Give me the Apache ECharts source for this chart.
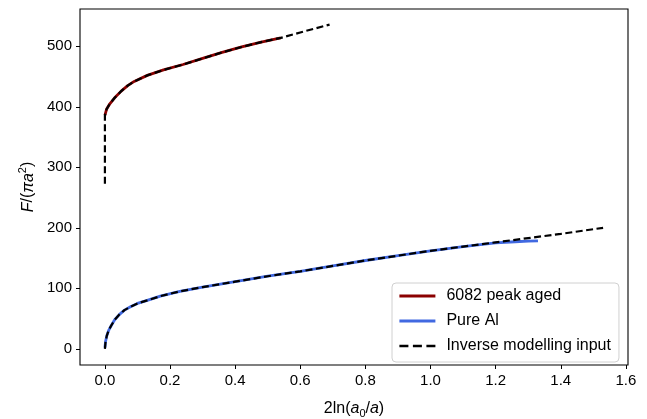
<!DOCTYPE html>
<html>
<head>
<meta charset="utf-8">
<script src="https://cdn.jsdelivr.net/npm/echarts@6/dist/echarts.min.js"></script>
<style>
  html, body { margin: 0; padding: 0; background: #fff; }
  #chart { width: 647px; height: 419px; }
</style>
</head>
<body>
<div id="chart"></div>
<script>
// 6082 peak aged: measured indentation curve
const peakAgedX = [0.0, 0.005, 0.015, 0.03, 0.05, 0.07, 0.09, 0.13, 0.18, 0.24, 0.30, 0.36, 0.42, 0.48, 0.54];
const peakAgedY = [386, 396, 405, 415, 426, 435, 442, 452, 461, 470, 480, 490, 499, 507, 514];

// 6082 peak aged: inverse modelling input
const peakInputX = [0.0, 0.0, 0.0, 0.005, 0.015, 0.03, 0.05, 0.07, 0.09, 0.13, 0.18, 0.24, 0.30, 0.36, 0.42, 0.48, 0.54, 0.60, 0.69];
const peakInputY = [273, 330, 386, 396, 405, 415, 426, 435, 442, 452, 461, 470, 480, 490, 499, 507, 514, 523, 536];

// Pure Al: measured indentation curve
const pureAlX = [0.0, 0.002, 0.006, 0.012, 0.02, 0.03, 0.045, 0.06, 0.08, 0.10, 0.13, 0.17, 0.23, 0.30, 0.40, 0.50, 0.60, 0.70, 0.80, 0.90, 1.00, 1.10, 1.20, 1.26, 1.30, 1.33];
const pureAlY = [2, 12, 22, 31, 39, 48, 57, 64, 70, 75, 80, 87, 95, 102, 111, 120, 128, 137, 146, 154, 162, 169, 175, 177, 178, 178.5];

// Pure Al: inverse modelling input
const pureInputX = [0.0, 0.002, 0.006, 0.012, 0.02, 0.03, 0.045, 0.06, 0.08, 0.10, 0.13, 0.17, 0.23, 0.30, 0.40, 0.50, 0.60, 0.70, 0.80, 0.90, 1.00, 1.10, 1.20, 1.30, 1.40, 1.53];
const pureInputY = [0, 12, 22, 31, 39, 48, 57, 64, 70, 75, 80, 87, 95, 102, 111, 120, 128, 137, 146, 154, 162, 169, 176, 183, 190, 200];

const xTicks = [0, 0.2, 0.4, 0.6, 0.8, 1.0, 1.2, 1.4, 1.6];
const yTicks = [0, 100, 200, 300, 400, 500];

const seriesNames = ['6082 peak aged', 'Pure Al', 'Inverse modelling input'];

const FONT = '"Liberation Sans", Arial, sans-serif';
const pairs = (xs, ys) => xs.map((x, i) => [x, ys[i]]);

const chart = echarts.init(document.getElementById('chart'), null, { renderer: 'canvas' });

const nameRich = {
  n: { fontFamily: FONT, fontSize: 16, color: '#000', lineHeight: 21 },
  i: { fontFamily: FONT, fontSize: 16, fontStyle: 'italic', color: '#000', lineHeight: 21 },
  sub: { fontFamily: FONT, fontSize: 11, color: '#000', verticalAlign: 'bottom', lineHeight: 12 },
  sup: { fontFamily: FONT, fontSize: 11, color: '#000', verticalAlign: 'top', lineHeight: 12 }
};

const tickStyle = { show: true, length: 4, inside: false, lineStyle: { color: '#000', width: 1 } };
const labelStyle = { color: '#000', fontFamily: FONT, fontSize: 15 };

const solid = (name, color, xs, ys) => ({
  name, type: 'line', data: pairs(xs, ys),
  showSymbol: false, symbol: 'none', animation: false,
  lineStyle: { color, width: 2.8 }, itemStyle: { color }
});
const dashed = (xs, ys) => ({
  name: seriesNames[2], type: 'line', data: pairs(xs, ys),
  showSymbol: false, symbol: 'none', animation: false, z: 3,
  lineStyle: { color: '#000', width: 2.2, type: [7, 3.5] }, itemStyle: { color: '#000' }
});

chart.setOption({
  backgroundColor: '#fff',
  animation: false,
  grid: {
    left: 80, right: 19, top: 9, bottom: 54,
    outerBoundsMode: 'none', containLabel: false,
    show: true, borderColor: '#000', borderWidth: 1.1, backgroundColor: 'transparent'
  },
  xAxis: {
    type: 'value', min: -0.0765, max: 1.6065,
    axisLine: { show: false, onZero: false },
    axisTick: Object.assign({ customValues: xTicks }, tickStyle),
    axisLabel: Object.assign({ customValues: xTicks, margin: 8, formatter: v => v.toFixed(1) }, labelStyle),
    splitLine: { show: false },
    name: '{n|2ln(}{i|a}{sub|0}{n|/}{i|a}{n|)}',
    nameLocation: 'middle', nameGap: 33,
    nameTextStyle: { rich: nameRich }
  },
  yAxis: {
    type: 'value', min: -26.75, max: 561.75,
    axisLine: { show: false, onZero: false },
    axisTick: Object.assign({ customValues: yTicks }, tickStyle),
    axisLabel: Object.assign({ customValues: yTicks, margin: 8 }, labelStyle),
    splitLine: { show: false },
    name: '{i|F}{n|/(}{i|πa}{sup|2}{n|)}',
    nameLocation: 'middle', nameGap: 41, nameRotate: 90,
    nameTextStyle: { rich: nameRich }
  },
  legend: {
    data: [
      { name: seriesNames[0] },
      { name: seriesNames[1] },
      { name: seriesNames[2], lineStyle: { type: [9, 4.5], width: 2.4 } }
    ],
    orient: 'vertical', left: 392, top: 283,
    padding: [5, 8, 8, 6], itemGap: 9,
    itemWidth: 36, itemHeight: 14,
    itemStyle: { opacity: 0 },
    lineStyle: { width: 2.8 },
    backgroundColor: '#fff', borderColor: '#d0d0d0', borderWidth: 1, borderRadius: 4,
    textStyle: { color: '#000', fontFamily: FONT, fontSize: 16, padding: [0, 0, 0, 6] }
  },
  series: [
    solid(seriesNames[0], '#8b0000', peakAgedX, peakAgedY),
    solid(seriesNames[1], '#4169e1', pureAlX, pureAlY),
    dashed(peakInputX, peakInputY),
    dashed(pureInputX, pureInputY)
  ]
});
</script>
</body>
</html>
